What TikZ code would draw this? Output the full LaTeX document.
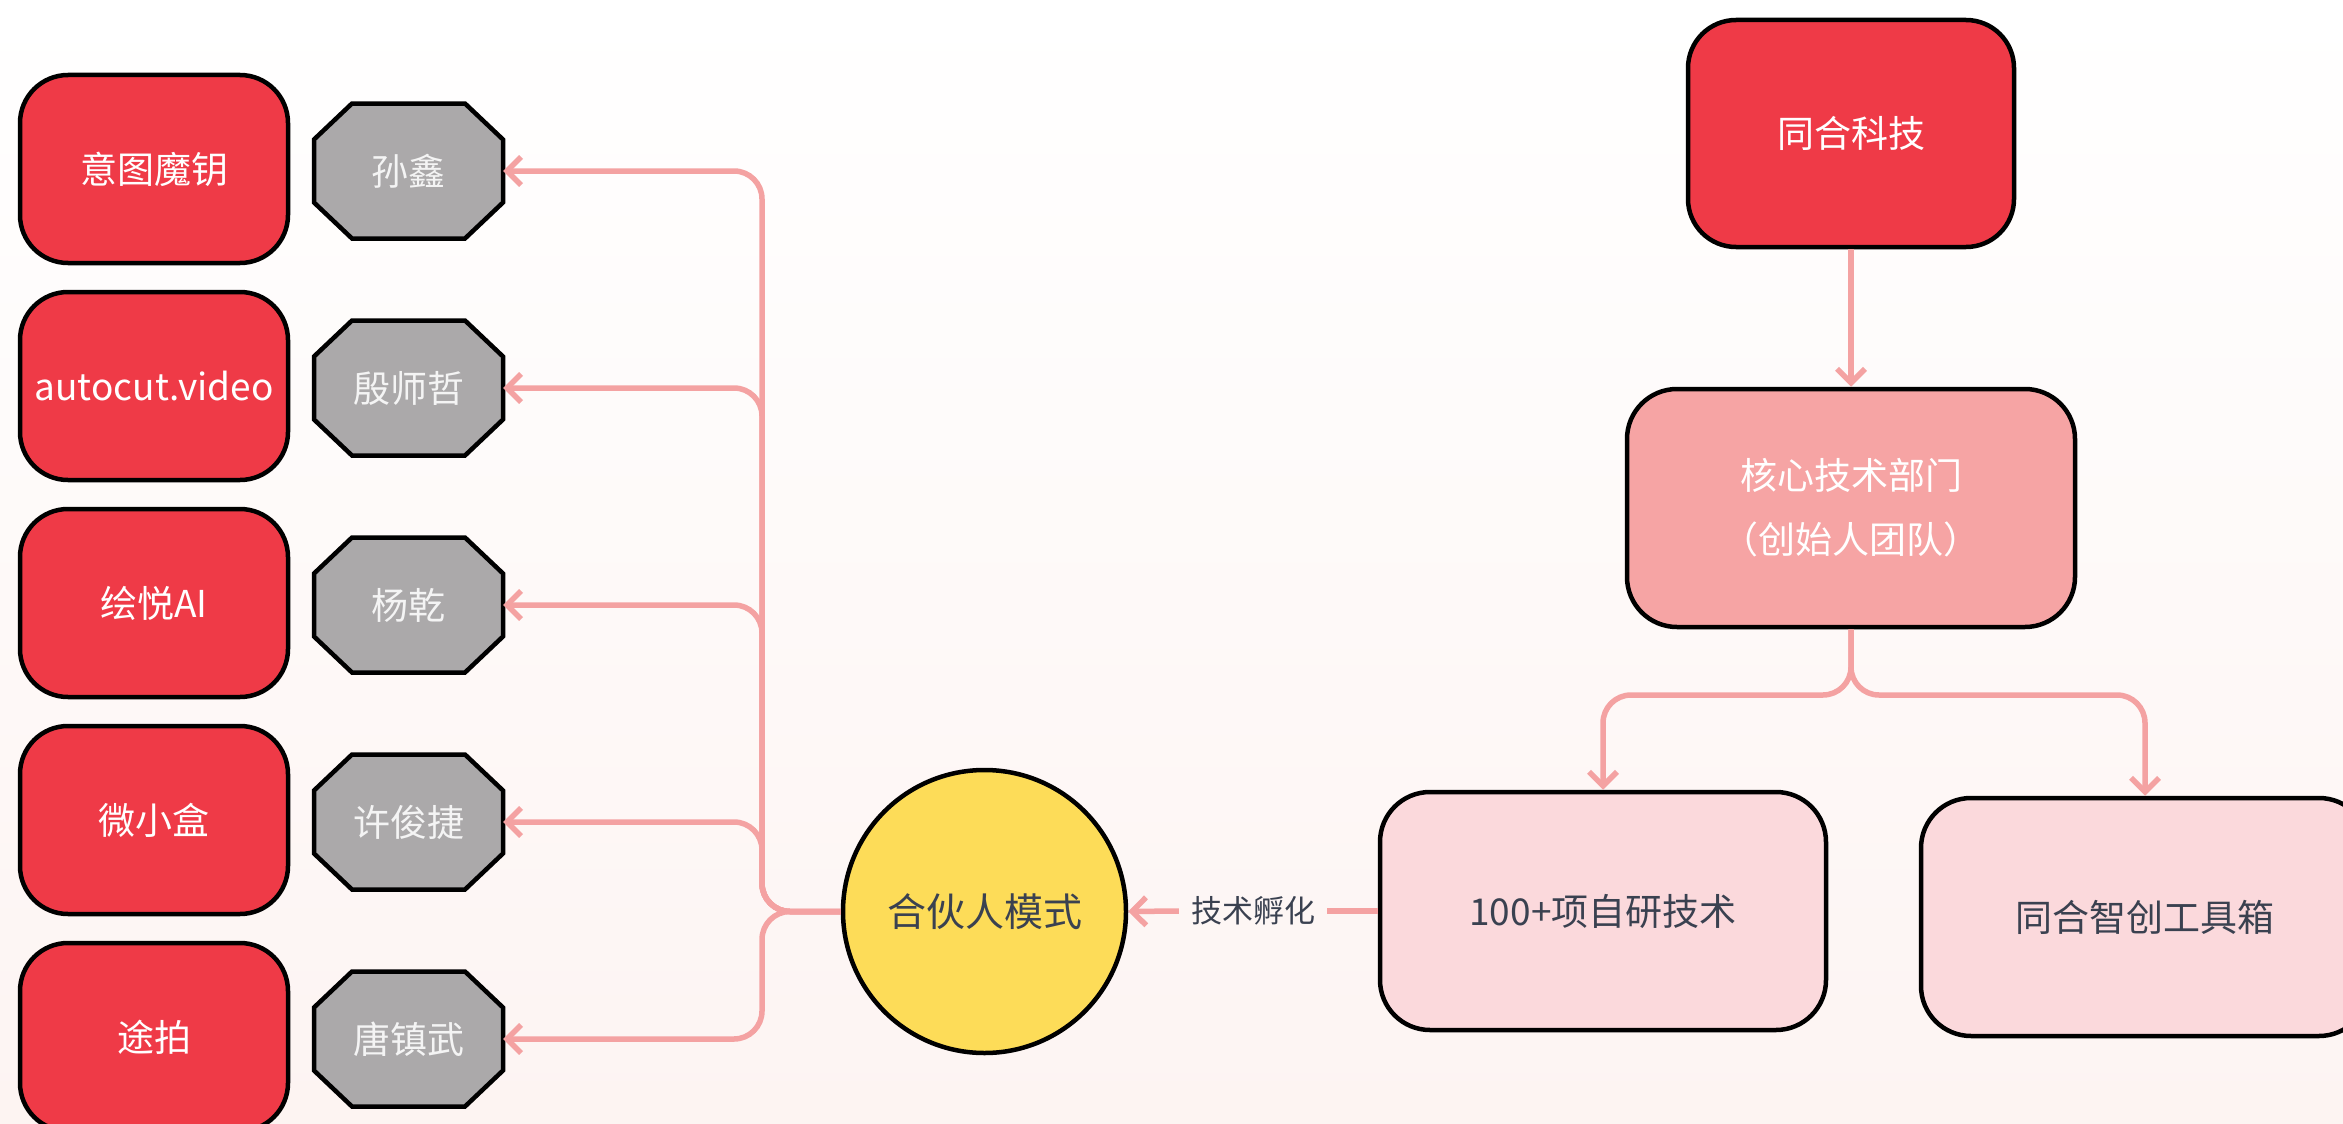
\documentclass[tikz,border=0pt]{standalone}
\usepackage{fontspec}
\setmainfont{Noto Sans CJK SC}
\usetikzlibrary{arrows.meta}
\definecolor{redf}{HTML}{EF3A47}
\definecolor{grayf}{HTML}{ABA9AA}
\definecolor{graytxt}{HTML}{F4F4F4}
\definecolor{connc}{HTML}{F4A2A2}
\definecolor{yellowf}{HTML}{FDDC58}
\definecolor{coref}{HTML}{F6A4A4}
\definecolor{lightf}{HTML}{FBD9DC}
\definecolor{darktxt}{HTML}{3A4150}
\definecolor{bgbot}{HTML}{FDF4F2}
\begin{document}
\begin{tikzpicture}[x=1pt,y=-1pt,
  redbox/.style={draw=black, line width=4.5pt, fill=redf, rounded corners=48pt,
    minimum width=268pt, minimum height=188pt, inner sep=0pt, text=white,
    font=\fontsize{37}{44}\selectfont},
  octtext/.style={minimum width=189pt, minimum height=135pt, inner sep=0pt,
    text=graytxt, font=\fontsize{37}{44}\selectfont},
  octshape/.style={draw=black, line width=4.5pt, fill=grayf, line join=miter},
  pinkbox/.style={draw=black, line width=4.5pt, rounded corners=50pt,
    minimum width=446pt, minimum height=238pt, inner sep=0pt,
    font=\fontsize{37}{64}\selectfont, align=center},
  conn/.style={draw=connc, line width=5.5pt, rounded corners=28pt},
  arr/.style={-{Straight Barb[length=14pt,width=28pt]}},
]
\useasboundingbox (0,0) rectangle (2343,1124);
\clip (0,0) rectangle (2343,1124);
\shade[top color=white, bottom color=bgbot] (0,0) rectangle (2343,1124);

% octagon shapes
\foreach \yy in {171,388,605,822,1039}{
  \path[octshape] (408.5,\yy) ++(-56.5,-67.5) -- ++(113,0) -- ++(38,36) -- ++(0,63)
    -- ++(-38,36) -- ++(-113,0) -- ++(-38,-36) -- ++(0,-63) -- cycle;
}

% left red boxes
\node[redbox] (r1) at (154,169) {意图魔钥};
\node[redbox, font=\fontsize{37}{44}\selectfont] (r2) at (154,386) {autocut.video};
\node[redbox] (r3) at (154,603) {绘悦AI};
\node[redbox] (r4) at (154,820) {微小盒};
\node[redbox] (r5) at (154,1037) {途拍};

% octagon labels
\node[octtext] (o1) at (408.5,171) {孙鑫};
\node[octtext] (o2) at (408.5,388) {殷师哲};
\node[octtext] (o3) at (408.5,605) {杨乾};
\node[octtext] (o4) at (408.5,822) {许俊捷};
\node[octtext] (o5) at (408.5,1039) {唐镇武};

% circle
\node[circle, draw=black, line width=4.5pt, fill=yellowf, minimum size=283pt,
  inner sep=0pt, text=darktxt, font=\fontsize{39}{44}\selectfont] (circ) at (984.5,911.5) {合伙人模式};

% right side
\node[draw=black, line width=4.5pt, fill=redf, rounded corners=48pt,
  minimum width=326pt, minimum height=227pt, inner sep=0pt, text=white,
  font=\fontsize{37}{44}\selectfont] (top) at (1851,133.5) {同合科技};
\node[pinkbox, fill=coref, minimum width=448pt, text=white] (core) at (1851,508) {核心技术部门\\（创始人团队）};
\node[pinkbox, fill=lightf, text=darktxt] (tech) at (1603,911) {100+项自研技术};
\node[pinkbox, fill=lightf, text=darktxt, minimum width=448pt] (tool) at (2145,917) {同合智创工具箱};

\node[text=darktxt, font=\fontsize{31}{36}\selectfont, inner sep=12pt] (lbl) at (1253,911) {技术孵化};

% connectors
\coordinate (trunk) at (762,911.5);
\foreach \k in {1,...,5}{
  \draw[conn, arr] (circ.west) -- (trunk) |- (o\k.east);
}
\draw[conn] (tech.west) -- (lbl.east);
\draw[conn, arr] (lbl.west) -- (circ.east);
\draw[conn, arr] (top.south) -- (core.north);
\coordinate (split) at (1851,695);
\draw[conn, arr] (core.south) -- (split) -| (tech.north);
\draw[conn, arr] (core.south) -- (split) -| (tool.north);
\end{tikzpicture}
\end{document}
